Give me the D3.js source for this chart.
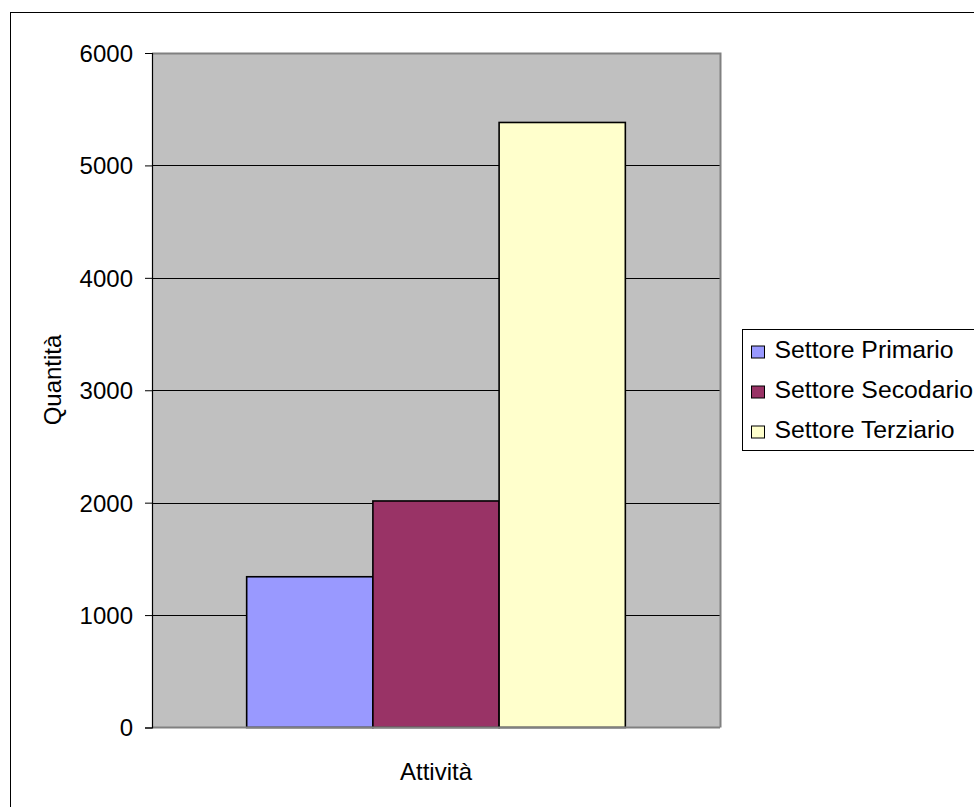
<!DOCTYPE html>
<html>
<head>
<meta charset="utf-8">
<script src="https://cdn.jsdelivr.net/npm/d3@7/dist/d3.min.js"></script>
<style>
  html, body { margin: 0; padding: 0; background: #ffffff; }
  svg { display: block; }
  text { font-family: "Liberation Sans", Arial, sans-serif; fill: #000; }
</style>
</head>
<body>
<svg id="chart" width="974" height="807"></svg>
<script>
// Data
const categories = ["Attività"];
const seriesNames = ["Settore Primario", "Settore Secodario", "Settore Terziario"];
const seriesValues = [1341, 2015, 5382];
const seriesColors = ["#9999ff", "#993366", "#ffffcc"];
const yTicks = [0, 1000, 2000, 3000, 4000, 5000, 6000];

const FONT = 24;
const LEGEND_FONT = 24.8;
const svg = d3.select("#chart");

// Chart frame
svg.append("rect")
  .attr("x", 10.5).attr("y", 12.5)
  .attr("width", 1000).attr("height", 1000)
  .attr("fill", "#fff").attr("stroke", "#000").attr("stroke-width", 1);

const plot = { left: 152, top: 53, right: 720, bottom: 727.5 };

const y = d3.scaleLinear().domain([0, 6000]).range([plot.bottom, plot.top]);
// one category; the bar group takes 1/1.5 of it (50% gap width)
const x0 = d3.scaleBand().domain(categories).range([plot.left, plot.right]).padding(0);
const groupW = x0.bandwidth() / 1.5;
const x1 = d3.scaleBand().domain(seriesNames).range([0, groupW]).padding(0);

// Plot background
svg.append("rect")
  .attr("x", plot.left).attr("y", plot.top)
  .attr("width", plot.right - plot.left).attr("height", plot.bottom - plot.top)
  .attr("fill", "#c0c0c0");

// Gridlines
svg.append("g").selectAll("line")
  .data(yTicks.filter(d => d > 0 && d < 6000))
  .join("line")
  .attr("x1", plot.left).attr("x2", plot.right)
  .attr("y1", d => Math.round(y(d)) + 0.5).attr("y2", d => Math.round(y(d)) + 0.5)
  .attr("stroke", "#000").attr("stroke-width", 1);

// Plot border (top and right in gray)
svg.append("path")
  .attr("d", `M${plot.left},${plot.top + 0.5}H${plot.right + 0.5}V${plot.bottom}`)
  .attr("fill", "none").attr("stroke", "#808080").attr("stroke-width", 2);

// Bars
const groupX = x0(categories[0]) + (x0.bandwidth() - groupW) / 2;
svg.append("g").selectAll("rect")
  .data(seriesValues)
  .join("rect")
  .attr("x", (d, i) => groupX + x1(seriesNames[i]))
  .attr("y", d => y(d))
  .attr("width", x1.bandwidth())
  .attr("height", d => plot.bottom - y(d))
  .attr("fill", (d, i) => seriesColors[i])
  .attr("stroke", "#000").attr("stroke-width", 1.6);

// X axis line
svg.append("line")
  .attr("x1", plot.left).attr("x2", plot.right)
  .attr("y1", plot.bottom).attr("y2", plot.bottom)
  .attr("stroke", "#808080").attr("stroke-width", 2);

// Y axis
const yAxis = d3.axisLeft(y).tickValues(yTicks).tickSize(7).tickPadding(12).tickFormat(d3.format("d"));
const gy = svg.append("g").attr("transform", `translate(${plot.left},0)`).call(yAxis);
gy.attr("font-size", null).attr("font-family", null);
gy.select(".domain").attr("stroke", "#000").attr("stroke-width", 1.2);
gy.selectAll(".tick line").attr("stroke", "#000");
gy.selectAll(".tick text").attr("font-size", FONT).attr("fill", "#000").attr("dy", "0.35em");

// Axis titles
svg.append("text")
  .attr("x", (plot.left + plot.right) / 2).attr("y", 780)
  .attr("text-anchor", "middle").attr("font-size", FONT)
  .text(categories[0]);

svg.append("text")
  .attr("transform", `translate(61,380) rotate(-90)`)
  .attr("text-anchor", "middle").attr("font-size", FONT)
  .text("Quantità");

// Legend
const legend = svg.append("g").attr("transform", "translate(742.5,329.5)");
legend.append("rect")
  .attr("width", 300).attr("height", 121)
  .attr("fill", "#fff").attr("stroke", "#000").attr("stroke-width", 1);
legend.selectAll("g.item")
  .data(seriesNames)
  .join("g").attr("class", "item")
  .attr("transform", (d, i) => `translate(0,${28 + i * 40})`)
  .each(function(d, i) {
    const g = d3.select(this);
    g.append("rect")
      .attr("x", 9).attr("y", -11.5).attr("width", 13).attr("height", 12)
      .attr("fill", seriesColors[i]).attr("stroke", "#000").attr("stroke-width", 1);
    g.append("text")
      .attr("x", 32).attr("y", 0).attr("font-size", LEGEND_FONT)
      .text(d);
  });
</script>
</body>
</html>
